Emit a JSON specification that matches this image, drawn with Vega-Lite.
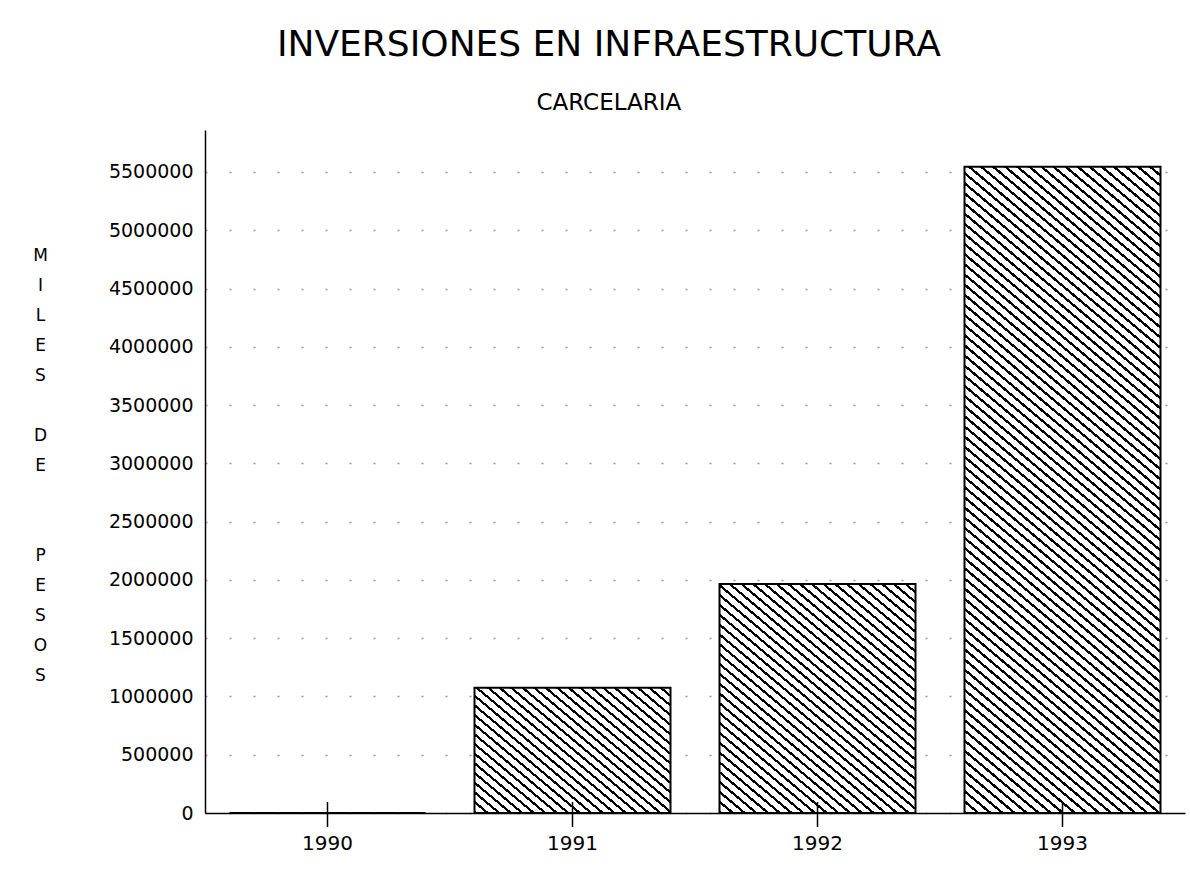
{
  "$schema": "https://vega.github.io/schema/vega-lite/v6.json",
  "autosize": {"type": "none"},
  "padding": {"left": 205, "top": 130, "right": 5, "bottom": 57},
  "width": 980,
  "height": 683,
  "background": "#ffffff",
  "title": {
    "text": "INVERSIONES EN INFRAESTRUCTURA",
    "subtitle": "CARCELARIA",
    "frame": "bounds",
    "anchor": "middle",
    "font": "DejaVu Sans",
    "fontSize": 36,
    "fontWeight": "normal",
    "color": "#000000",
    "subtitleFont": "DejaVu Sans",
    "subtitleFontSize": 23,
    "subtitleColor": "#000000",
    "subtitlePadding": 28,
    "offset": 14
  },
  "data": {
    "values": [
      {"year": "1990", "inversion": 0},
      {"year": "1991", "inversion": 1075000},
      {"year": "1992", "inversion": 1965000},
      {"year": "1993", "inversion": 5545000}
    ]
  },
  "encoding": {
    "x": {
      "field": "year",
      "type": "nominal",
      "scale": {"paddingInner": 0.2, "paddingOuter": 0.1},
      "axis": {
        "title": null,
        "labelAngle": 0,
        "labelFont": "DejaVu Sans",
        "labelFontSize": 20,
        "labelColor": "#000000",
        "labelPadding": 20,
        "ticks": false,
        "domainColor": "#000000",
        "domainWidth": 1.5
      }
    }
  },
  "layer": [
    {
      "mark": {"type": "bar", "stroke": "#000000", "strokeWidth": 2},
      "encoding": {
        "y": {
          "field": "inversion",
          "type": "quantitative",
          "scale": {"domain": [0, 5860000], "nice": false, "zero": true},
          "axis": {
            "values": [0, 500000, 1000000, 1500000, 2000000, 2500000, 3000000, 3500000, 4000000, 4500000, 5000000, 5500000],
            "format": "d",
            "labelFont": "DejaVu Sans",
            "labelFontSize": 19,
            "labelColor": "#000000",
            "labelPadding": 12,
            "ticks": false,
            "domainColor": "#000000",
            "domainWidth": 1.5,
            "grid": true,
            "gridColor": "#999999",
            "gridWidth": 1.5,
            "gridDash": [2, 22],
            "title": ["M", "I", "L", "E", "S", "\u2800", "D", "E", "\u2800", "\u2800", "P", "E", "S", "O", "S"],
            "titleAngle": 0,
            "titleAlign": "center",
            "titleBaseline": "middle",
            "titleX": -165,
            "titleY": 125,
            "titleLineHeight": 30,
            "titleFont": "DejaVu Sans",
            "titleFontSize": 17,
            "titleFontWeight": "normal",
            "titleColor": "#000000"
          }
        },
        "fill": {
          "condition": [
            {"test": "datum.year === '1991'", "value": {"gradient": "linear", "x1": 0, "y1": 1, "x2": 1.1152, "y2": 0.1508, "stops": [
{"offset":0,"color":"#000"},{"offset":0.01,"color":"#000"},{"offset":0.01,"color":"#fff"},{"offset":0.0333,"color":"#fff"},
{"offset":0.0333,"color":"#000"},{"offset":0.0433,"color":"#000"},{"offset":0.0433,"color":"#fff"},{"offset":0.0667,"color":"#fff"},
{"offset":0.0667,"color":"#000"},{"offset":0.0767,"color":"#000"},{"offset":0.0767,"color":"#fff"},{"offset":0.1,"color":"#fff"},
{"offset":0.1,"color":"#000"},{"offset":0.11,"color":"#000"},{"offset":0.11,"color":"#fff"},{"offset":0.1333,"color":"#fff"},
{"offset":0.1333,"color":"#000"},{"offset":0.1433,"color":"#000"},{"offset":0.1433,"color":"#fff"},{"offset":0.1667,"color":"#fff"},
{"offset":0.1667,"color":"#000"},{"offset":0.1767,"color":"#000"},{"offset":0.1767,"color":"#fff"},{"offset":0.2,"color":"#fff"},
{"offset":0.2,"color":"#000"},{"offset":0.21,"color":"#000"},{"offset":0.21,"color":"#fff"},{"offset":0.2333,"color":"#fff"},
{"offset":0.2333,"color":"#000"},{"offset":0.2433,"color":"#000"},{"offset":0.2433,"color":"#fff"},{"offset":0.2667,"color":"#fff"},
{"offset":0.2667,"color":"#000"},{"offset":0.2767,"color":"#000"},{"offset":0.2767,"color":"#fff"},{"offset":0.3,"color":"#fff"},
{"offset":0.3,"color":"#000"},{"offset":0.31,"color":"#000"},{"offset":0.31,"color":"#fff"},{"offset":0.3333,"color":"#fff"},
{"offset":0.3333,"color":"#000"},{"offset":0.3433,"color":"#000"},{"offset":0.3433,"color":"#fff"},{"offset":0.3667,"color":"#fff"},
{"offset":0.3667,"color":"#000"},{"offset":0.3767,"color":"#000"},{"offset":0.3767,"color":"#fff"},{"offset":0.4,"color":"#fff"},
{"offset":0.4,"color":"#000"},{"offset":0.41,"color":"#000"},{"offset":0.41,"color":"#fff"},{"offset":0.4333,"color":"#fff"},
{"offset":0.4333,"color":"#000"},{"offset":0.4433,"color":"#000"},{"offset":0.4433,"color":"#fff"},{"offset":0.4667,"color":"#fff"},
{"offset":0.4667,"color":"#000"},{"offset":0.4767,"color":"#000"},{"offset":0.4767,"color":"#fff"},{"offset":0.5,"color":"#fff"},
{"offset":0.5,"color":"#000"},{"offset":0.51,"color":"#000"},{"offset":0.51,"color":"#fff"},{"offset":0.5333,"color":"#fff"},
{"offset":0.5333,"color":"#000"},{"offset":0.5433,"color":"#000"},{"offset":0.5433,"color":"#fff"},{"offset":0.5667,"color":"#fff"},
{"offset":0.5667,"color":"#000"},{"offset":0.5767,"color":"#000"},{"offset":0.5767,"color":"#fff"},{"offset":0.6,"color":"#fff"},
{"offset":0.6,"color":"#000"},{"offset":0.61,"color":"#000"},{"offset":0.61,"color":"#fff"},{"offset":0.6333,"color":"#fff"},
{"offset":0.6333,"color":"#000"},{"offset":0.6433,"color":"#000"},{"offset":0.6433,"color":"#fff"},{"offset":0.6667,"color":"#fff"},
{"offset":0.6667,"color":"#000"},{"offset":0.6767,"color":"#000"},{"offset":0.6767,"color":"#fff"},{"offset":0.7,"color":"#fff"},
{"offset":0.7,"color":"#000"},{"offset":0.71,"color":"#000"},{"offset":0.71,"color":"#fff"},{"offset":0.7333,"color":"#fff"},
{"offset":0.7333,"color":"#000"},{"offset":0.7433,"color":"#000"},{"offset":0.7433,"color":"#fff"},{"offset":0.7667,"color":"#fff"},
{"offset":0.7667,"color":"#000"},{"offset":0.7767,"color":"#000"},{"offset":0.7767,"color":"#fff"},{"offset":0.8,"color":"#fff"},
{"offset":0.8,"color":"#000"},{"offset":0.81,"color":"#000"},{"offset":0.81,"color":"#fff"},{"offset":0.8333,"color":"#fff"},
{"offset":0.8333,"color":"#000"},{"offset":0.8433,"color":"#000"},{"offset":0.8433,"color":"#fff"},{"offset":0.8667,"color":"#fff"},
{"offset":0.8667,"color":"#000"},{"offset":0.8767,"color":"#000"},{"offset":0.8767,"color":"#fff"},{"offset":0.9,"color":"#fff"},
{"offset":0.9,"color":"#000"},{"offset":0.91,"color":"#000"},{"offset":0.91,"color":"#fff"},{"offset":0.9333,"color":"#fff"},
{"offset":0.9333,"color":"#000"},{"offset":0.9433,"color":"#000"},{"offset":0.9433,"color":"#fff"},{"offset":0.9667,"color":"#fff"},
{"offset":0.9667,"color":"#000"},{"offset":0.9767,"color":"#000"},{"offset":0.9767,"color":"#fff"},{"offset":1,"color":"#fff"}
            ]}},
            {"test": "datum.year === '1992'", "value": {"gradient": "linear", "x1": 0, "y1": 1, "x2": 0.8143, "y2": -0.1333, "stops": [
{"offset":0,"color":"#000"},{"offset":0.0075,"color":"#000"},{"offset":0.0075,"color":"#fff"},{"offset":0.025,"color":"#fff"},
{"offset":0.025,"color":"#000"},{"offset":0.0325,"color":"#000"},{"offset":0.0325,"color":"#fff"},{"offset":0.05,"color":"#fff"},
{"offset":0.05,"color":"#000"},{"offset":0.0575,"color":"#000"},{"offset":0.0575,"color":"#fff"},{"offset":0.075,"color":"#fff"},
{"offset":0.075,"color":"#000"},{"offset":0.0825,"color":"#000"},{"offset":0.0825,"color":"#fff"},{"offset":0.1,"color":"#fff"},
{"offset":0.1,"color":"#000"},{"offset":0.1075,"color":"#000"},{"offset":0.1075,"color":"#fff"},{"offset":0.125,"color":"#fff"},
{"offset":0.125,"color":"#000"},{"offset":0.1325,"color":"#000"},{"offset":0.1325,"color":"#fff"},{"offset":0.15,"color":"#fff"},
{"offset":0.15,"color":"#000"},{"offset":0.1575,"color":"#000"},{"offset":0.1575,"color":"#fff"},{"offset":0.175,"color":"#fff"},
{"offset":0.175,"color":"#000"},{"offset":0.1825,"color":"#000"},{"offset":0.1825,"color":"#fff"},{"offset":0.2,"color":"#fff"},
{"offset":0.2,"color":"#000"},{"offset":0.2075,"color":"#000"},{"offset":0.2075,"color":"#fff"},{"offset":0.225,"color":"#fff"},
{"offset":0.225,"color":"#000"},{"offset":0.2325,"color":"#000"},{"offset":0.2325,"color":"#fff"},{"offset":0.25,"color":"#fff"},
{"offset":0.25,"color":"#000"},{"offset":0.2575,"color":"#000"},{"offset":0.2575,"color":"#fff"},{"offset":0.275,"color":"#fff"},
{"offset":0.275,"color":"#000"},{"offset":0.2825,"color":"#000"},{"offset":0.2825,"color":"#fff"},{"offset":0.3,"color":"#fff"},
{"offset":0.3,"color":"#000"},{"offset":0.3075,"color":"#000"},{"offset":0.3075,"color":"#fff"},{"offset":0.325,"color":"#fff"},
{"offset":0.325,"color":"#000"},{"offset":0.3325,"color":"#000"},{"offset":0.3325,"color":"#fff"},{"offset":0.35,"color":"#fff"},
{"offset":0.35,"color":"#000"},{"offset":0.3575,"color":"#000"},{"offset":0.3575,"color":"#fff"},{"offset":0.375,"color":"#fff"},
{"offset":0.375,"color":"#000"},{"offset":0.3825,"color":"#000"},{"offset":0.3825,"color":"#fff"},{"offset":0.4,"color":"#fff"},
{"offset":0.4,"color":"#000"},{"offset":0.4075,"color":"#000"},{"offset":0.4075,"color":"#fff"},{"offset":0.425,"color":"#fff"},
{"offset":0.425,"color":"#000"},{"offset":0.4325,"color":"#000"},{"offset":0.4325,"color":"#fff"},{"offset":0.45,"color":"#fff"},
{"offset":0.45,"color":"#000"},{"offset":0.4575,"color":"#000"},{"offset":0.4575,"color":"#fff"},{"offset":0.475,"color":"#fff"},
{"offset":0.475,"color":"#000"},{"offset":0.4825,"color":"#000"},{"offset":0.4825,"color":"#fff"},{"offset":0.5,"color":"#fff"},
{"offset":0.5,"color":"#000"},{"offset":0.5075,"color":"#000"},{"offset":0.5075,"color":"#fff"},{"offset":0.525,"color":"#fff"},
{"offset":0.525,"color":"#000"},{"offset":0.5325,"color":"#000"},{"offset":0.5325,"color":"#fff"},{"offset":0.55,"color":"#fff"},
{"offset":0.55,"color":"#000"},{"offset":0.5575,"color":"#000"},{"offset":0.5575,"color":"#fff"},{"offset":0.575,"color":"#fff"},
{"offset":0.575,"color":"#000"},{"offset":0.5825,"color":"#000"},{"offset":0.5825,"color":"#fff"},{"offset":0.6,"color":"#fff"},
{"offset":0.6,"color":"#000"},{"offset":0.6075,"color":"#000"},{"offset":0.6075,"color":"#fff"},{"offset":0.625,"color":"#fff"},
{"offset":0.625,"color":"#000"},{"offset":0.6325,"color":"#000"},{"offset":0.6325,"color":"#fff"},{"offset":0.65,"color":"#fff"},
{"offset":0.65,"color":"#000"},{"offset":0.6575,"color":"#000"},{"offset":0.6575,"color":"#fff"},{"offset":0.675,"color":"#fff"},
{"offset":0.675,"color":"#000"},{"offset":0.6825,"color":"#000"},{"offset":0.6825,"color":"#fff"},{"offset":0.7,"color":"#fff"},
{"offset":0.7,"color":"#000"},{"offset":0.7075,"color":"#000"},{"offset":0.7075,"color":"#fff"},{"offset":0.725,"color":"#fff"},
{"offset":0.725,"color":"#000"},{"offset":0.7325,"color":"#000"},{"offset":0.7325,"color":"#fff"},{"offset":0.75,"color":"#fff"},
{"offset":0.75,"color":"#000"},{"offset":0.7575,"color":"#000"},{"offset":0.7575,"color":"#fff"},{"offset":0.775,"color":"#fff"},
{"offset":0.775,"color":"#000"},{"offset":0.7825,"color":"#000"},{"offset":0.7825,"color":"#fff"},{"offset":0.8,"color":"#fff"},
{"offset":0.8,"color":"#000"},{"offset":0.8075,"color":"#000"},{"offset":0.8075,"color":"#fff"},{"offset":0.825,"color":"#fff"},
{"offset":0.825,"color":"#000"},{"offset":0.8325,"color":"#000"},{"offset":0.8325,"color":"#fff"},{"offset":0.85,"color":"#fff"},
{"offset":0.85,"color":"#000"},{"offset":0.8575,"color":"#000"},{"offset":0.8575,"color":"#fff"},{"offset":0.875,"color":"#fff"},
{"offset":0.875,"color":"#000"},{"offset":0.8825,"color":"#000"},{"offset":0.8825,"color":"#fff"},{"offset":0.9,"color":"#fff"},
{"offset":0.9,"color":"#000"},{"offset":0.9075,"color":"#000"},{"offset":0.9075,"color":"#fff"},{"offset":0.925,"color":"#fff"},
{"offset":0.925,"color":"#000"},{"offset":0.9325,"color":"#000"},{"offset":0.9325,"color":"#fff"},{"offset":0.95,"color":"#fff"},
{"offset":0.95,"color":"#000"},{"offset":0.9575,"color":"#000"},{"offset":0.9575,"color":"#fff"},{"offset":0.975,"color":"#fff"},
{"offset":0.975,"color":"#000"},{"offset":0.9825,"color":"#000"},{"offset":0.9825,"color":"#fff"},{"offset":1,"color":"#fff"}
            ]}}
          ],
          "value": {"gradient": "linear", "x1": 0, "y1": 1, "x2": 0.3, "y2": -0.178, "stops": [
{"offset":0,"color":"#000"},{"offset":0.0038,"color":"#000"},{"offset":0.0038,"color":"#fff"},{"offset":0.0125,"color":"#fff"},
{"offset":0.0125,"color":"#000"},{"offset":0.0163,"color":"#000"},{"offset":0.0163,"color":"#fff"},{"offset":0.025,"color":"#fff"},
{"offset":0.025,"color":"#000"},{"offset":0.0288,"color":"#000"},{"offset":0.0288,"color":"#fff"},{"offset":0.0375,"color":"#fff"},
{"offset":0.0375,"color":"#000"},{"offset":0.0413,"color":"#000"},{"offset":0.0413,"color":"#fff"},{"offset":0.05,"color":"#fff"},
{"offset":0.05,"color":"#000"},{"offset":0.0538,"color":"#000"},{"offset":0.0538,"color":"#fff"},{"offset":0.0625,"color":"#fff"},
{"offset":0.0625,"color":"#000"},{"offset":0.0663,"color":"#000"},{"offset":0.0663,"color":"#fff"},{"offset":0.075,"color":"#fff"},
{"offset":0.075,"color":"#000"},{"offset":0.0788,"color":"#000"},{"offset":0.0788,"color":"#fff"},{"offset":0.0875,"color":"#fff"},
{"offset":0.0875,"color":"#000"},{"offset":0.0913,"color":"#000"},{"offset":0.0913,"color":"#fff"},{"offset":0.1,"color":"#fff"},
{"offset":0.1,"color":"#000"},{"offset":0.1038,"color":"#000"},{"offset":0.1038,"color":"#fff"},{"offset":0.1125,"color":"#fff"},
{"offset":0.1125,"color":"#000"},{"offset":0.1163,"color":"#000"},{"offset":0.1163,"color":"#fff"},{"offset":0.125,"color":"#fff"},
{"offset":0.125,"color":"#000"},{"offset":0.1288,"color":"#000"},{"offset":0.1288,"color":"#fff"},{"offset":0.1375,"color":"#fff"},
{"offset":0.1375,"color":"#000"},{"offset":0.1413,"color":"#000"},{"offset":0.1413,"color":"#fff"},{"offset":0.15,"color":"#fff"},
{"offset":0.15,"color":"#000"},{"offset":0.1538,"color":"#000"},{"offset":0.1538,"color":"#fff"},{"offset":0.1625,"color":"#fff"},
{"offset":0.1625,"color":"#000"},{"offset":0.1663,"color":"#000"},{"offset":0.1663,"color":"#fff"},{"offset":0.175,"color":"#fff"},
{"offset":0.175,"color":"#000"},{"offset":0.1788,"color":"#000"},{"offset":0.1788,"color":"#fff"},{"offset":0.1875,"color":"#fff"},
{"offset":0.1875,"color":"#000"},{"offset":0.1913,"color":"#000"},{"offset":0.1913,"color":"#fff"},{"offset":0.2,"color":"#fff"},
{"offset":0.2,"color":"#000"},{"offset":0.2038,"color":"#000"},{"offset":0.2038,"color":"#fff"},{"offset":0.2125,"color":"#fff"},
{"offset":0.2125,"color":"#000"},{"offset":0.2163,"color":"#000"},{"offset":0.2163,"color":"#fff"},{"offset":0.225,"color":"#fff"},
{"offset":0.225,"color":"#000"},{"offset":0.2288,"color":"#000"},{"offset":0.2288,"color":"#fff"},{"offset":0.2375,"color":"#fff"},
{"offset":0.2375,"color":"#000"},{"offset":0.2413,"color":"#000"},{"offset":0.2413,"color":"#fff"},{"offset":0.25,"color":"#fff"},
{"offset":0.25,"color":"#000"},{"offset":0.2538,"color":"#000"},{"offset":0.2538,"color":"#fff"},{"offset":0.2625,"color":"#fff"},
{"offset":0.2625,"color":"#000"},{"offset":0.2663,"color":"#000"},{"offset":0.2663,"color":"#fff"},{"offset":0.275,"color":"#fff"},
{"offset":0.275,"color":"#000"},{"offset":0.2788,"color":"#000"},{"offset":0.2788,"color":"#fff"},{"offset":0.2875,"color":"#fff"},
{"offset":0.2875,"color":"#000"},{"offset":0.2913,"color":"#000"},{"offset":0.2913,"color":"#fff"},{"offset":0.3,"color":"#fff"},
{"offset":0.3,"color":"#000"},{"offset":0.3038,"color":"#000"},{"offset":0.3038,"color":"#fff"},{"offset":0.3125,"color":"#fff"},
{"offset":0.3125,"color":"#000"},{"offset":0.3163,"color":"#000"},{"offset":0.3163,"color":"#fff"},{"offset":0.325,"color":"#fff"},
{"offset":0.325,"color":"#000"},{"offset":0.3288,"color":"#000"},{"offset":0.3288,"color":"#fff"},{"offset":0.3375,"color":"#fff"},
{"offset":0.3375,"color":"#000"},{"offset":0.3413,"color":"#000"},{"offset":0.3413,"color":"#fff"},{"offset":0.35,"color":"#fff"},
{"offset":0.35,"color":"#000"},{"offset":0.3538,"color":"#000"},{"offset":0.3538,"color":"#fff"},{"offset":0.3625,"color":"#fff"},
{"offset":0.3625,"color":"#000"},{"offset":0.3663,"color":"#000"},{"offset":0.3663,"color":"#fff"},{"offset":0.375,"color":"#fff"},
{"offset":0.375,"color":"#000"},{"offset":0.3788,"color":"#000"},{"offset":0.3788,"color":"#fff"},{"offset":0.3875,"color":"#fff"},
{"offset":0.3875,"color":"#000"},{"offset":0.3913,"color":"#000"},{"offset":0.3913,"color":"#fff"},{"offset":0.4,"color":"#fff"},
{"offset":0.4,"color":"#000"},{"offset":0.4038,"color":"#000"},{"offset":0.4038,"color":"#fff"},{"offset":0.4125,"color":"#fff"},
{"offset":0.4125,"color":"#000"},{"offset":0.4163,"color":"#000"},{"offset":0.4163,"color":"#fff"},{"offset":0.425,"color":"#fff"},
{"offset":0.425,"color":"#000"},{"offset":0.4288,"color":"#000"},{"offset":0.4288,"color":"#fff"},{"offset":0.4375,"color":"#fff"},
{"offset":0.4375,"color":"#000"},{"offset":0.4413,"color":"#000"},{"offset":0.4413,"color":"#fff"},{"offset":0.45,"color":"#fff"},
{"offset":0.45,"color":"#000"},{"offset":0.4538,"color":"#000"},{"offset":0.4538,"color":"#fff"},{"offset":0.4625,"color":"#fff"},
{"offset":0.4625,"color":"#000"},{"offset":0.4663,"color":"#000"},{"offset":0.4663,"color":"#fff"},{"offset":0.475,"color":"#fff"},
{"offset":0.475,"color":"#000"},{"offset":0.4788,"color":"#000"},{"offset":0.4788,"color":"#fff"},{"offset":0.4875,"color":"#fff"},
{"offset":0.4875,"color":"#000"},{"offset":0.4913,"color":"#000"},{"offset":0.4913,"color":"#fff"},{"offset":0.5,"color":"#fff"},
{"offset":0.5,"color":"#000"},{"offset":0.5038,"color":"#000"},{"offset":0.5038,"color":"#fff"},{"offset":0.5125,"color":"#fff"},
{"offset":0.5125,"color":"#000"},{"offset":0.5163,"color":"#000"},{"offset":0.5163,"color":"#fff"},{"offset":0.525,"color":"#fff"},
{"offset":0.525,"color":"#000"},{"offset":0.5288,"color":"#000"},{"offset":0.5288,"color":"#fff"},{"offset":0.5375,"color":"#fff"},
{"offset":0.5375,"color":"#000"},{"offset":0.5413,"color":"#000"},{"offset":0.5413,"color":"#fff"},{"offset":0.55,"color":"#fff"},
{"offset":0.55,"color":"#000"},{"offset":0.5538,"color":"#000"},{"offset":0.5538,"color":"#fff"},{"offset":0.5625,"color":"#fff"},
{"offset":0.5625,"color":"#000"},{"offset":0.5663,"color":"#000"},{"offset":0.5663,"color":"#fff"},{"offset":0.575,"color":"#fff"},
{"offset":0.575,"color":"#000"},{"offset":0.5788,"color":"#000"},{"offset":0.5788,"color":"#fff"},{"offset":0.5875,"color":"#fff"},
{"offset":0.5875,"color":"#000"},{"offset":0.5913,"color":"#000"},{"offset":0.5913,"color":"#fff"},{"offset":0.6,"color":"#fff"},
{"offset":0.6,"color":"#000"},{"offset":0.6038,"color":"#000"},{"offset":0.6038,"color":"#fff"},{"offset":0.6125,"color":"#fff"},
{"offset":0.6125,"color":"#000"},{"offset":0.6163,"color":"#000"},{"offset":0.6163,"color":"#fff"},{"offset":0.625,"color":"#fff"},
{"offset":0.625,"color":"#000"},{"offset":0.6288,"color":"#000"},{"offset":0.6288,"color":"#fff"},{"offset":0.6375,"color":"#fff"},
{"offset":0.6375,"color":"#000"},{"offset":0.6413,"color":"#000"},{"offset":0.6413,"color":"#fff"},{"offset":0.65,"color":"#fff"},
{"offset":0.65,"color":"#000"},{"offset":0.6538,"color":"#000"},{"offset":0.6538,"color":"#fff"},{"offset":0.6625,"color":"#fff"},
{"offset":0.6625,"color":"#000"},{"offset":0.6663,"color":"#000"},{"offset":0.6663,"color":"#fff"},{"offset":0.675,"color":"#fff"},
{"offset":0.675,"color":"#000"},{"offset":0.6788,"color":"#000"},{"offset":0.6788,"color":"#fff"},{"offset":0.6875,"color":"#fff"},
{"offset":0.6875,"color":"#000"},{"offset":0.6913,"color":"#000"},{"offset":0.6913,"color":"#fff"},{"offset":0.7,"color":"#fff"},
{"offset":0.7,"color":"#000"},{"offset":0.7038,"color":"#000"},{"offset":0.7038,"color":"#fff"},{"offset":0.7125,"color":"#fff"},
{"offset":0.7125,"color":"#000"},{"offset":0.7163,"color":"#000"},{"offset":0.7163,"color":"#fff"},{"offset":0.725,"color":"#fff"},
{"offset":0.725,"color":"#000"},{"offset":0.7288,"color":"#000"},{"offset":0.7288,"color":"#fff"},{"offset":0.7375,"color":"#fff"},
{"offset":0.7375,"color":"#000"},{"offset":0.7413,"color":"#000"},{"offset":0.7413,"color":"#fff"},{"offset":0.75,"color":"#fff"},
{"offset":0.75,"color":"#000"},{"offset":0.7538,"color":"#000"},{"offset":0.7538,"color":"#fff"},{"offset":0.7625,"color":"#fff"},
{"offset":0.7625,"color":"#000"},{"offset":0.7663,"color":"#000"},{"offset":0.7663,"color":"#fff"},{"offset":0.775,"color":"#fff"},
{"offset":0.775,"color":"#000"},{"offset":0.7788,"color":"#000"},{"offset":0.7788,"color":"#fff"},{"offset":0.7875,"color":"#fff"},
{"offset":0.7875,"color":"#000"},{"offset":0.7913,"color":"#000"},{"offset":0.7913,"color":"#fff"},{"offset":0.8,"color":"#fff"},
{"offset":0.8,"color":"#000"},{"offset":0.8038,"color":"#000"},{"offset":0.8038,"color":"#fff"},{"offset":0.8125,"color":"#fff"},
{"offset":0.8125,"color":"#000"},{"offset":0.8163,"color":"#000"},{"offset":0.8163,"color":"#fff"},{"offset":0.825,"color":"#fff"},
{"offset":0.825,"color":"#000"},{"offset":0.8288,"color":"#000"},{"offset":0.8288,"color":"#fff"},{"offset":0.8375,"color":"#fff"},
{"offset":0.8375,"color":"#000"},{"offset":0.8413,"color":"#000"},{"offset":0.8413,"color":"#fff"},{"offset":0.85,"color":"#fff"},
{"offset":0.85,"color":"#000"},{"offset":0.8538,"color":"#000"},{"offset":0.8538,"color":"#fff"},{"offset":0.8625,"color":"#fff"},
{"offset":0.8625,"color":"#000"},{"offset":0.8663,"color":"#000"},{"offset":0.8663,"color":"#fff"},{"offset":0.875,"color":"#fff"},
{"offset":0.875,"color":"#000"},{"offset":0.8788,"color":"#000"},{"offset":0.8788,"color":"#fff"},{"offset":0.8875,"color":"#fff"},
{"offset":0.8875,"color":"#000"},{"offset":0.8913,"color":"#000"},{"offset":0.8913,"color":"#fff"},{"offset":0.9,"color":"#fff"},
{"offset":0.9,"color":"#000"},{"offset":0.9038,"color":"#000"},{"offset":0.9038,"color":"#fff"},{"offset":0.9125,"color":"#fff"},
{"offset":0.9125,"color":"#000"},{"offset":0.9163,"color":"#000"},{"offset":0.9163,"color":"#fff"},{"offset":0.925,"color":"#fff"},
{"offset":0.925,"color":"#000"},{"offset":0.9288,"color":"#000"},{"offset":0.9288,"color":"#fff"},{"offset":0.9375,"color":"#fff"},
{"offset":0.9375,"color":"#000"},{"offset":0.9413,"color":"#000"},{"offset":0.9413,"color":"#fff"},{"offset":0.95,"color":"#fff"},
{"offset":0.95,"color":"#000"},{"offset":0.9538,"color":"#000"},{"offset":0.9538,"color":"#fff"},{"offset":0.9625,"color":"#fff"},
{"offset":0.9625,"color":"#000"},{"offset":0.9663,"color":"#000"},{"offset":0.9663,"color":"#fff"},{"offset":0.975,"color":"#fff"},
{"offset":0.975,"color":"#000"},{"offset":0.9788,"color":"#000"},{"offset":0.9788,"color":"#fff"},{"offset":0.9875,"color":"#fff"},
{"offset":0.9875,"color":"#000"},{"offset":0.9913,"color":"#000"},{"offset":0.9913,"color":"#fff"},{"offset":1,"color":"#fff"}
          ]}
        }
      }
    },
    {
      "mark": {"type": "tick", "orient": "vertical", "size": 25, "thickness": 1.5, "color": "#000000", "opacity": 1, "yOffset": 1.5},
      "encoding": {
        "y": {"datum": 0, "type": "quantitative"}
      }
    }
  ],
  "config": {
    "view": {"stroke": null}
  }
}
